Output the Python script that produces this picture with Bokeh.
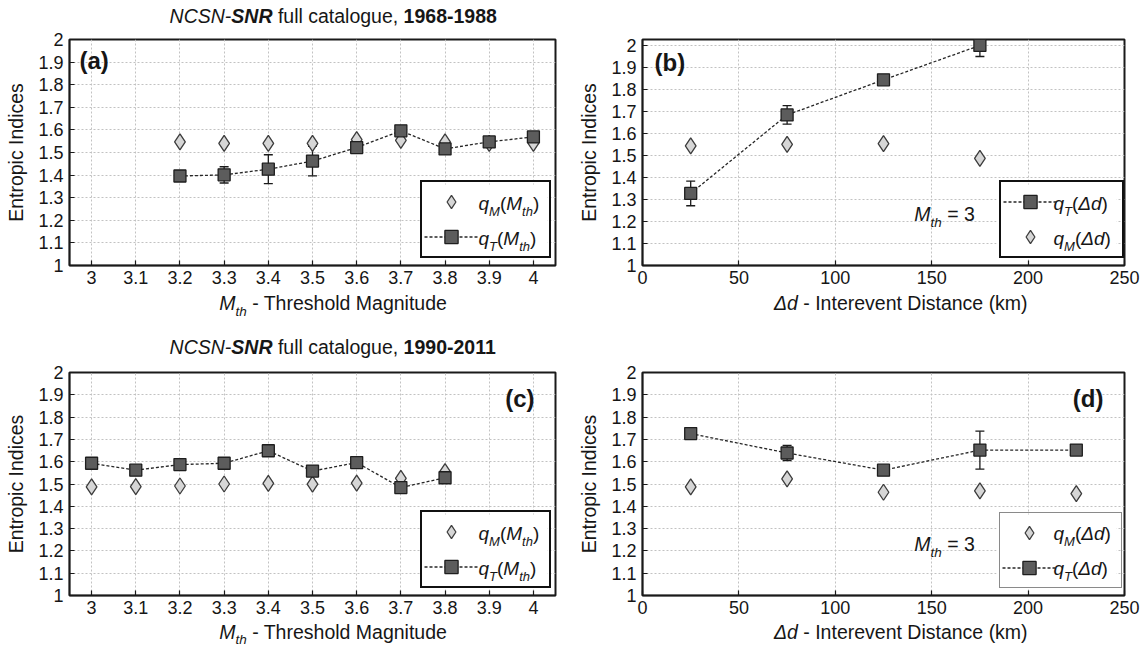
from bokeh.plotting import figure
from bokeh.models import (ColumnDataSource, Whisker, TeeHead, Label, Legend,
                          LegendItem, FixedTicker, Range1d, BoxAnnotation)
from bokeh.layouts import gridplot
from bokeh.embed import file_html
from bokeh.resources import INLINE

# ---------------- data ----------------
# (a) NCSN-SNR 1968-1988, vs threshold magnitude
mth_a = [3.2, 3.3, 3.4, 3.5, 3.6, 3.7, 3.8, 3.9, 4.0]
qM_a = [1.547, 1.540, 1.540, 1.540, 1.557, 1.554, 1.547, 1.540, 1.540]
qT_a = [1.396, 1.401, 1.426, 1.462, 1.522, 1.596, 1.516, 1.547, 1.569]
qT_a_err = [0.010, 0.036, 0.064, 0.065, 0.010, 0.015, 0.010, 0.018, 0.010]

# (b) NCSN-SNR 1968-1988, vs interevent distance
dd_b = [25, 75, 125, 175]
qT_b = [1.327, 1.683, 1.842, 1.998]
qT_b_err = [0.056, 0.042, 0.010, 0.050]
qM_b = [1.543, 1.549, 1.553, 1.486]

# (c) NCSN-SNR 1990-2011, vs threshold magnitude
mth_c = [3.0, 3.1, 3.2, 3.3, 3.4, 3.5, 3.6, 3.7, 3.8]
qM_c = [1.487, 1.488, 1.491, 1.500, 1.503, 1.499, 1.504, 1.525, 1.555]
qT_c = [1.593, 1.562, 1.587, 1.593, 1.649, 1.558, 1.596, 1.484, 1.528]
qT_c_err = [0.008, 0.008, 0.008, 0.008, 0.008, 0.008, 0.008, 0.008, 0.008]

# (d) NCSN-SNR 1990-2011, vs interevent distance
dd_d = [25, 75, 125, 175, 225]
qM_d = [1.487, 1.523, 1.463, 1.469, 1.457]
qT_d = [1.726, 1.639, 1.562, 1.652, 1.652]
qT_d_err = [0.010, 0.034, 0.010, 0.085, 0.010]

y_ticks = [1.0, 1.1, 1.2, 1.3, 1.4, 1.5, 1.6, 1.7, 1.8, 1.9, 2.0]
y_tick_labels = ["1", "1.1", "1.2", "1.3", "1.4", "1.5", "1.6", "1.7", "1.8", "1.9", "2"]
mth_ticks = [3.0, 3.1, 3.2, 3.3, 3.4, 3.5, 3.6, 3.7, 3.8, 3.9, 4.0]
mth_tick_labels = ["3", "3.1", "3.2", "3.3", "3.4", "3.5", "3.6", "3.7", "3.8", "3.9", "4"]
dd_ticks = [0, 50, 100, 150, 200, 250]
dd_tick_labels = ["0", "50", "100", "150", "200", "250"]

title_top = ("NCSN-", "SNR", " full catalogue, ", "1968-1988")
title_bottom = ("NCSN-", "SNR", " full catalogue, ", "1990-2011")

# ---------------- style / layout ----------------
FONT = "Liberation Sans"
TXT = "#161616"
DIA_FILL, DIA_LINE = "#d6d6d6", "#3c3c3c"
SQ_FILL, SQ_LINE = "#5c5c5c", "#1e1e1e"
BIG = 19.5
SUB = 13.5
LEFT_W, RIGHT_W = 575, 571
FRAME_W = 486
BASE_COMP = 0.36   # baseline correction (fraction of font size)

W_REG = {' ': 278, '(': 333, ')': 333, ',': 278, '-': 333, '.': 278, '=': 584,
         'C': 722, 'D': 722, 'I': 278, 'M': 833, 'N': 722, 'R': 722, 'S': 667, 'T': 611,
         'a': 556, 'c': 500, 'd': 556, 'e': 556, 'f': 278, 'g': 556, 'h': 556, 'i': 222,
         'k': 500, 'l': 222, 'm': 833, 'n': 556, 'o': 556, 'q': 556, 'r': 333, 's': 500,
         't': 278, 'u': 556, 'v': 500, '\u0394': 668}


def tw(s, size):
    return sum(W_REG.get(c, 556) for c in s) * size / 1000.0


def rich(p, x, y, segs, dx=0.0, dy=0.0, align="left", level="annotation"):
    """segs: (text, font_style, size_px, shift_down_px)"""
    widths = [tw(t, sz) for (t, st, sz, dn) in segs]
    total = sum(widths)
    cur = dx - {"left": 0.0, "center": total / 2.0, "right": total}[align]
    for (t, st, sz, dn), w in zip(segs, widths):
        body = t.strip(" ")
        lead = tw(t[:len(t) - len(t.lstrip(" "))], sz)
        if body:
            p.add_layout(Label(x=x, y=y, x_offset=cur + lead,
                               y_offset=dy - dn + BASE_COMP * sz,
                               text=body, text_font=FONT, text_font_style=st,
                               text_font_size=f"{sz}px", text_color=TXT,
                               text_baseline="alphabetic", text_align="left",
                               level=level))
        cur += w


def overrides(ticks, labels):
    d = {}
    for v, s in zip(ticks, labels):
        d[float(v)] = s
        d["%g" % v] = s
    return d


def strip(w, h):
    s = figure(width=w, height=h, x_range=Range1d(0, w), y_range=Range1d(0, h),
               output_backend="svg", toolbar_location=None, title=None,
               x_axis_type=None, y_axis_type=None,
               min_border=0, min_border_left=0, min_border_right=0,
               min_border_top=0, min_border_bottom=0,
               background_fill_color="white", border_fill_color="white")
    s.outline_line_color = None
    return s


def make_panel(xr, yr, xt, xtl, w, h, bl, br, bt, bb):
    p = figure(width=w, height=h, x_range=Range1d(*xr), y_range=Range1d(*yr),
               output_backend="svg", toolbar_location=None, title=None,
               min_border_left=bl, min_border_right=br,
               min_border_top=bt, min_border_bottom=bb,
               background_fill_color="white", border_fill_color="white")
    p.xaxis.ticker = FixedTicker(ticks=xt)
    p.yaxis.ticker = FixedTicker(ticks=y_ticks)
    p.xaxis.major_label_overrides = overrides(xt, xtl)
    p.yaxis.major_label_overrides = overrides(y_ticks, y_tick_labels)
    for ax in (p.xaxis[0], p.yaxis[0]):
        ax.major_tick_in = 5
        ax.major_tick_out = 0
        ax.minor_tick_line_color = None
        ax.axis_line_color = "#1a1a1a"
        ax.axis_line_width = 1.5
        ax.major_tick_line_color = "#1a1a1a"
        ax.major_tick_line_width = 1.2
        ax.major_label_text_font = FONT
        ax.major_label_text_font_size = "18px"
        ax.major_label_text_color = TXT
        ax.major_label_standoff = 5
    p.yaxis.major_label_standoff = 6
    p.yaxis.axis_label = "Entropic Indices"
    p.yaxis.axis_label_text_font = FONT
    p.yaxis.axis_label_text_font_size = f"{BIG}px"
    p.yaxis.axis_label_text_font_style = "normal"
    p.yaxis.axis_label_text_color = TXT
    p.yaxis.axis_label_standoff = 8
    p.outline_line_color = "#1a1a1a"
    p.outline_line_width = 2
    p.outline_line_alpha = 1.0
    for g in (p.xgrid[0], p.ygrid[0]):
        g.grid_line_color = "#c2c2c2"
        g.grid_line_dash = "2 2"
        g.grid_line_width = 1
    return p


def add_series(p, xs, qm, qt, qt_err):
    src_m = ColumnDataSource(dict(x=xs, q=qm))
    src_t = ColumnDataSource(dict(x=xs, q=qt,
                                  up=[v + e for v, e in zip(qt, qt_err)],
                                  lo=[v - e for v, e in zip(qt, qt_err)]))
    wh = Whisker(source=src_t, base="x", upper="up", lower="lo",
                 line_color="#1a1a1a", line_width=1.3, level="underlay",
                 upper_head=TeeHead(size=9, line_color="#1a1a1a", line_width=1.3),
                 lower_head=TeeHead(size=9, line_color="#1a1a1a", line_width=1.3))
    p.add_layout(wh)
    r_m = p.scatter("x", "q", source=src_m, marker="diamond", size=16,
                    fill_color=DIA_FILL, line_color=DIA_LINE, line_width=1.3)
    r_l = p.line("x", "q", source=src_t, line_color="#262626", line_width=1.3,
                 line_dash="3 2")
    r_s = p.scatter("x", "q", source=src_t, marker="square", size=12,
                    fill_color=SQ_FILL, line_color=SQ_LINE, line_width=1.3)
    return r_m, r_l, r_s


LEG_PAD, LEG_ROW, LEG_RIGHT, LEG_BOTTOM = 2, 35, 8, 7


def add_legend(p, items, width, border_color, border_width, frame_h):
    # white background under the (transparent) legend box
    xs, xe = p.x_range.start, p.x_range.end
    ys, ye = p.y_range.start, p.y_range.end
    kx = (xe - xs) / FRAME_W
    ky = (ye - ys) / frame_h
    height = 2 * LEG_PAD + 2 * LEG_ROW
    p.add_layout(BoxAnnotation(left=xe - (LEG_RIGHT + width) * kx, right=xe - LEG_RIGHT * kx,
                               bottom=ys + LEG_BOTTOM * ky, top=ys + (LEG_BOTTOM + height) * ky,
                               fill_color="white", fill_alpha=1.0, line_color=None,
                               level="underlay"))
    leg = Legend(items=[LegendItem(label=" ", renderers=r) for r in items],
                 location=(FRAME_W - LEG_RIGHT - width, LEG_BOTTOM), padding=LEG_PAD,
                 spacing=0, glyph_width=54, glyph_height=33, label_height=LEG_ROW,
                 label_width=width - 58, label_standoff=0, margin=0,
                 border_line_color=border_color, border_line_width=border_width,
                 border_line_alpha=1.0,
                 background_fill_alpha=0.0, label_text_font_size="8px")
    p.add_layout(leg)


def legend_text(p, segs_list, width):
    xe, ys = p.x_range.end, p.y_range.start
    bases = [55.5, 20.5]
    for segs, b in zip(segs_list, bases):
        rich(p, xe, ys, segs, dx=-(LEG_RIGHT + width) + 58, dy=b, level="overlay")


def lbl_q(sub, arg):
    return ([("q", "italic", 19, 0), (sub, "italic", 13, 6), ("(", "normal", 19, 0)]
            + arg + [(")", "normal", 19, 0)])


ARG_M = [("M", "italic", 19, 0), ("th", "italic", 13, 6)]
ARG_D = [("\u0394d", "italic", 19, 0)]


def title(s, parts, xc, y):
    segs = [(parts[0], "italic", BIG, 0), (parts[1], "bold italic", BIG, 0),
            (parts[2], "normal", BIG, 0), (parts[3], "bold", BIG, 0)]
    rich(s, xc, y, segs, align="center")


def xlabel_mth(s, xc, y, sub_shift=6):
    segs = [("M", "italic", BIG, 0), ("th", "italic", SUB, sub_shift),
            (" - Threshold Magnitude", "normal", BIG, 0)]
    rich(s, xc, y, segs, align="center")


def xlabel_dd(s, xc, y):
    segs = [("\u0394d", "italic", BIG, 0), (" - Interevent Distance (km)", "normal", BIG, 0)]
    rich(s, xc, y, segs, align="center")


def mth_note(p, x, y):
    segs = [("M", "italic", BIG, 0), ("th", "italic", SUB, 6), (" = 3", "normal", BIG, 0)]
    rich(p, x, y, segs)


def tag(p, text, x, y, dx, dy, align):
    p.add_layout(Label(x=x, y=y, x_offset=dx, y_offset=dy + BASE_COMP * 24, text=text,
                       text_font=FONT, text_font_style="bold", text_font_size="24px",
                       text_color=TXT, text_baseline="alphabetic", text_align=align))


# frame centres inside each column (pixels from the column's left edge)
XC_L = 69 + FRAME_W / 2
XC_R = 63 + FRAME_W / 2

# row heights (page pixels): 28 + 263 + 69 + 261 + 26 = 647
TOP_H, P1_H, MID_H, P2_H, BOT_H = 28, 263, 69, 261, 26

# ---------------- top strip ----------------
top_l = strip(LEFT_W, TOP_H)
title(top_l, title_top, XC_L, TOP_H - 23)
top_r = strip(RIGHT_W, TOP_H)

# ---------------- panel (a) ----------------
pa = make_panel((2.95, 4.05), (1.0, 2.0), mth_ticks, mth_tick_labels, LEFT_W, P1_H, 69, 20, 11, 26)
ra = add_series(pa, mth_a, qM_a, qT_a, qT_a_err)
add_legend(pa, [[ra[0]], [ra[1], ra[2]]], 127, "#111111", 2, 226)
legend_text(pa, [lbl_q("M", ARG_M), lbl_q("T", ARG_M)], 127)
tag(pa, "(a)", 2.95, 2.0, 10, -30, "left")

# ---------------- panel (b) ----------------
pb = make_panel((0, 250), (1.0, 2.025), dd_ticks, dd_tick_labels, RIGHT_W, P1_H, 63, 22, 11, 26)
rb = add_series(pb, dd_b, qM_b, qT_b, qT_b_err)
add_legend(pb, [[rb[1], rb[2]], [rb[0]]], 121, "#111111", 2, 226)
legend_text(pb, [lbl_q("T", ARG_D), lbl_q("M", ARG_D)], 121)
mth_note(pb, 141, 1.2)
tag(pb, "(b)", 0, 2.025, 12, -32, "left")

# ---------------- middle strip (x labels of a/b, title of c) ----------------
mid_l = strip(LEFT_W, MID_H)
xlabel_mth(mid_l, XC_L, MID_H - 19)
title(mid_l, title_bottom, XC_L, MID_H - 63)
mid_r = strip(RIGHT_W, MID_H)
xlabel_dd(mid_r, XC_R, MID_H - 19)

# ---------------- panel (c) ----------------
pc = make_panel((2.95, 4.05), (1.0, 2.0), mth_ticks, mth_tick_labels, LEFT_W, P2_H, 69, 20, 12, 26)
rc = add_series(pc, mth_c, qM_c, qT_c, qT_c_err)
add_legend(pc, [[rc[0]], [rc[1], rc[2]]], 127, "#111111", 2, 223)
legend_text(pc, [lbl_q("M", ARG_M), lbl_q("T", ARG_M)], 127)
tag(pc, "(c)", 4.05, 2.0, -21, -35, "right")

# ---------------- panel (d) ----------------
pd_ = make_panel((0, 250), (1.0, 2.0), dd_ticks, dd_tick_labels, RIGHT_W, P2_H, 63, 22, 12, 26)
rd = add_series(pd_, dd_d, qM_d, qT_d, qT_d_err)
add_legend(pd_, [[rd[0]], [rd[1], rd[2]]], 121, "#8a8a8a", 1.5, 223)
legend_text(pd_, [lbl_q("M", ARG_D), lbl_q("T", ARG_D)], 121)
mth_note(pd_, 141, 1.2)
tag(pd_, "(d)", 250, 2.0, -21, -35, "right")

# ---------------- bottom strip ----------------
bot_l = strip(LEFT_W, BOT_H)
xlabel_mth(bot_l, XC_L, BOT_H - 18, sub_shift=5)
bot_r = strip(RIGHT_W, BOT_H)
xlabel_dd(bot_r, XC_R, BOT_H - 18)

grid = gridplot([[top_l, top_r], [pa, pb], [mid_l, mid_r], [pc, pd_], [bot_l, bot_r]],
                toolbar_location=None)

with open("out.html", "w") as f:
    f.write(file_html(grid, INLINE))
